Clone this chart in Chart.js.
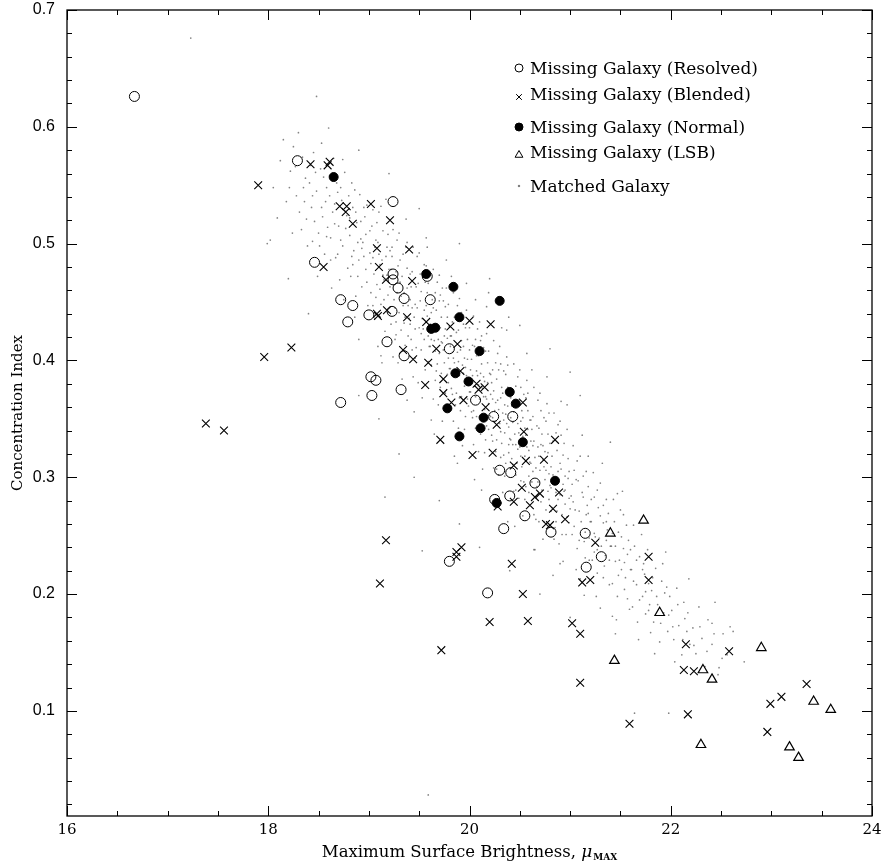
<!DOCTYPE html>
<html>
<head>
<meta charset="utf-8">
<script src="https://cdn.jsdelivr.net/npm/chart.js@4/dist/chart.umd.min.js"></script>
<style>
  html, body { margin: 0; padding: 0; background: #fff; }
  #wrap { width: 882px; height: 865px; position: relative; }
</style>
</head>
<body>
<div id="wrap"><canvas id="chart"></canvas></div>
<script>
// tick labels
const xTicks = [16, 18, 20, 22, 24];
const yTicks = [0.1, 0.2, 0.3, 0.4, 0.5, 0.6, 0.7];

// Missing Galaxy (Resolved) - open circles [mu_max, concentration]
const resolvedPts = [
  [16.67,0.626],[18.29,0.571],[19.24,0.536],[18.46,0.484],[19.24,0.474],[19.24,0.469],
  [19.58,0.472],[19.29,0.462],[19.35,0.453],[19.61,0.452],[18.72,0.452],[18.84,0.447],
  [19.00,0.439],[19.23,0.442],[18.79,0.433],[19.18,0.416],[19.80,0.410],[19.35,0.404],
  [19.02,0.386],[19.07,0.383],[19.32,0.375],[19.03,0.370],[18.72,0.364],[20.06,0.366],
  [20.24,0.352],[20.43,0.352],[20.30,0.306],[20.41,0.304],[20.65,0.295],[20.40,0.284],
  [20.25,0.281],[20.55,0.267],[20.34,0.256],[20.81,0.253],[21.15,0.252],[21.31,0.232],
  [21.16,0.223],[19.80,0.228],[20.18,0.201]
];

// Missing Galaxy (Blended) - crosses
const blendedPts = [
  [18.42,0.568],[18.61,0.570],[18.59,0.567],[17.90,0.550],[18.71,0.532],[18.78,0.532],
  [18.77,0.527],[18.84,0.517],[19.02,0.534],[19.21,0.520],[19.08,0.496],[19.40,0.495],
  [18.55,0.480],[19.10,0.480],[19.17,0.469],[19.43,0.468],[19.08,0.440],[19.09,0.438],
  [19.18,0.443],[19.38,0.437],[19.57,0.433],[20.00,0.434],[20.21,0.431],[19.81,0.429],
  [19.88,0.414],[19.67,0.410],[19.34,0.409],[17.96,0.403],[18.23,0.411],[19.44,0.401],
  [19.59,0.398],[19.91,0.391],[20.07,0.380],[20.15,0.377],[20.09,0.375],[19.74,0.384],
  [19.56,0.379],[19.74,0.372],[19.82,0.364],[19.94,0.366],[20.53,0.364],[20.16,0.360],
  [20.27,0.345],[20.54,0.339],[19.71,0.332],[20.85,0.332],[20.03,0.319],[20.23,0.321],
  [20.44,0.310],[20.56,0.314],[20.74,0.315],[20.52,0.291],[20.70,0.286],[20.89,0.287],
  [20.65,0.283],[20.28,0.275],[20.44,0.279],[20.60,0.276],[20.83,0.273],[20.95,0.264],
  [20.76,0.260],[20.80,0.259],[21.25,0.244],[21.78,0.232],[21.12,0.210],[21.20,0.212],
  [21.78,0.212],[20.42,0.226],[19.87,0.236],[19.92,0.240],[19.87,0.232],[19.17,0.246],
  [20.53,0.200],[20.20,0.176],[20.58,0.177],[21.02,0.175],[19.11,0.209],[21.10,0.166],
  [22.15,0.157],[22.58,0.151],[22.13,0.135],[22.23,0.134],[21.10,0.124],[23.35,0.123],
  [23.10,0.112],[22.99,0.106],[22.17,0.097],[21.59,0.089],[22.96,0.082],[19.72,0.152],
  [17.38,0.346],[17.56,0.340]
];

// Missing Galaxy (Normal) - filled circles
const normalPts = [
  [18.65,0.557],[19.57,0.474],[19.84,0.463],[20.30,0.451],[19.90,0.437],[19.62,0.427],
  [19.66,0.428],[20.10,0.408],[19.86,0.389],[19.99,0.382],[20.40,0.373],[20.46,0.363],
  [19.78,0.359],[20.14,0.351],[20.11,0.342],[19.90,0.335],[20.53,0.330],[20.85,0.297],
  [20.27,0.278]
];

// Missing Galaxy (LSB) - open triangles
const lsbPts = [
  [21.73,0.263],[21.40,0.252],[21.89,0.184],[22.90,0.154],[21.44,0.143],[22.32,0.135],
  [22.41,0.127],[23.42,0.108],[23.59,0.101],[22.30,0.071],[23.18,0.069],[23.27,0.060]
];

// Matched Galaxy - small dots
const matchedPts = [
  [17.23,0.676],[18.48,0.626],[18.60,0.599],[17.99,0.500],[19.59,0.028],
  [18.05,0.548],[18.12,0.571],[18.18,0.536],[18.02,0.503],[18.15,0.589],[18.09,0.522],
  [18.22,0.562],[18.25,0.583],[18.28,0.541],[18.31,0.527],[18.34,0.574],[18.37,0.556],[18.24,0.509],
  [18.39,0.498],[18.30,0.595],[18.36,0.536],[18.21,0.548],[18.33,0.512],[18.27,0.566],
  [18.41,0.552],[18.43,0.531],[18.45,0.578],[18.48,0.545],[18.50,0.509],[18.52,0.564],[18.54,0.523],
  [18.56,0.491],[18.58,0.548],[18.44,0.502],[18.49,0.472],[18.53,0.586],[18.57,0.536],[18.59,0.514],
  [18.42,0.567],[18.46,0.519],[18.55,0.557],[18.51,0.498],
  [18.61,0.541],[18.62,0.505],[18.64,0.527],[18.65,0.573],[18.67,0.488],[18.68,0.552],[18.70,0.515],
  [18.71,0.469],[18.73,0.537],[18.74,0.498],[18.76,0.561],[18.77,0.513],[18.79,0.479],[18.63,0.462],
  [18.66,0.534],[18.69,0.544],[18.72,0.503],[18.75,0.452],[18.78,0.524],[18.80,0.541],[18.62,0.486],
  [18.74,0.572],
  [18.81,0.507],[18.82,0.472],[18.84,0.531],[18.85,0.494],[18.87,0.455],[18.88,0.518],[18.90,0.486],
  [18.91,0.542],[18.93,0.463],[18.94,0.501],[18.96,0.523],[18.97,0.478],[18.99,0.447],[18.83,0.552],
  [18.86,0.437],[18.89,0.501],[18.92,0.519],[18.95,0.489],[18.98,0.533],[18.84,0.482],[18.90,0.418],
  [18.97,0.508],[18.87,0.527],[18.93,0.496],
  [19.01,0.492],[19.02,0.458],[19.03,0.515],[19.05,0.474],[19.06,0.436],[19.07,0.503],[19.08,0.465],
  [19.10,0.527],[19.11,0.482],[19.12,0.448],[19.14,0.511],[19.15,0.469],[19.16,0.425],[19.18,0.497],
  [19.19,0.456],[19.04,0.529],[19.09,0.412],[19.13,0.486],[19.17,0.538],[19.20,0.478],[19.02,0.483],
  [19.06,0.497],[19.11,0.461],[19.15,0.452],[19.19,0.508],[19.04,0.447],[19.13,0.398],[19.08,0.518],
  [19.18,0.473],[19.10,0.491],
  [19.21,0.463],[19.22,0.431],[19.23,0.489],[19.25,0.452],[19.26,0.418],[19.27,0.476],[19.28,0.503],
  [19.30,0.441],[19.31,0.467],[19.32,0.426],[19.34,0.491],[19.35,0.458],[19.36,0.413],[19.38,0.479],
  [19.39,0.447],[19.24,0.512],[19.29,0.398],[19.33,0.472],[19.37,0.521],[19.40,0.436],[19.22,0.478],
  [19.26,0.445],[19.31,0.486],[19.35,0.432],[19.38,0.462],[19.24,0.403],[19.33,0.384],[19.28,0.458],
  [19.37,0.497],[19.21,0.494],[19.30,0.509],[19.39,0.421],[19.27,0.433],[19.34,0.447],
  [19.41,0.452],[19.42,0.418],[19.43,0.476],[19.45,0.437],[19.46,0.402],[19.47,0.463],[19.48,0.489],
  [19.50,0.428],[19.51,0.451],[19.52,0.409],[19.54,0.471],[19.55,0.443],[19.56,0.392],[19.58,0.458],
  [19.59,0.421],[19.44,0.497],[19.49,0.381],[19.53,0.436],[19.57,0.505],[19.60,0.412],[19.42,0.463],
  [19.46,0.427],[19.51,0.474],[19.55,0.418],[19.58,0.438],[19.44,0.386],[19.53,0.368],[19.48,0.445],
  [19.57,0.481],[19.41,0.431],[19.50,0.492],[19.59,0.399],[19.47,0.411],[19.54,0.427],[19.43,0.445],
  [19.52,0.459],[19.56,0.467],[19.45,0.356],
  [19.61,0.431],[19.62,0.396],[19.63,0.452],[19.65,0.417],[19.66,0.383],[19.67,0.443],[19.68,0.467],
  [19.70,0.406],[19.71,0.428],[19.72,0.389],[19.74,0.451],[19.75,0.421],[19.76,0.372],[19.78,0.437],
  [19.79,0.402],[19.64,0.478],[19.69,0.362],[19.73,0.415],[19.77,0.486],[19.80,0.393],[19.62,0.441],
  [19.66,0.408],[19.71,0.456],[19.75,0.398],[19.78,0.419],[19.64,0.367],[19.73,0.348],[19.68,0.426],
  [19.77,0.462],[19.61,0.412],[19.70,0.473],[19.79,0.381],[19.67,0.391],[19.74,0.409],[19.63,0.426],
  [19.72,0.437],[19.76,0.446],[19.65,0.337],[19.69,0.418],[19.80,0.429],[19.66,0.458],[19.71,0.377],
  [19.75,0.361],
  [19.81,0.412],[19.82,0.376],[19.83,0.433],[19.85,0.398],[19.86,0.362],[19.87,0.424],[19.88,0.447],
  [19.90,0.387],[19.91,0.409],[19.92,0.369],[19.94,0.431],[19.95,0.402],[19.96,0.352],[19.98,0.418],
  [19.99,0.383],[19.84,0.458],[19.89,0.342],[19.93,0.396],[19.97,0.466],[20.00,0.373],[19.82,0.421],
  [19.86,0.389],[19.91,0.437],[19.95,0.378],[19.98,0.401],[19.84,0.348],[19.93,0.327],[19.88,0.407],
  [19.97,0.443],[19.81,0.393],[19.90,0.453],[19.99,0.361],[19.87,0.372],[19.94,0.389],[19.83,0.407],
  [19.92,0.417],[19.96,0.428],[19.85,0.318],[19.89,0.399],[20.00,0.409],[19.86,0.438],[19.91,0.357],
  [19.95,0.341],[19.97,0.387],[19.83,0.371],
  [20.01,0.392],[20.02,0.356],[20.03,0.413],[20.05,0.378],[20.06,0.342],[20.07,0.404],[20.08,0.427],
  [20.10,0.367],[20.11,0.389],[20.12,0.349],[20.14,0.411],[20.15,0.382],[20.16,0.332],[20.18,0.398],
  [20.19,0.363],[20.04,0.438],[20.09,0.322],[20.13,0.376],[20.17,0.446],[20.20,0.353],[20.02,0.401],
  [20.06,0.369],[20.11,0.417],[20.15,0.358],[20.18,0.381],[20.04,0.328],[20.13,0.307],[20.08,0.387],
  [20.17,0.423],[20.01,0.373],[20.10,0.433],[20.19,0.341],[20.07,0.352],[20.14,0.369],[20.03,0.387],
  [20.12,0.397],[20.16,0.408],[20.05,0.298],[20.09,0.379],[20.20,0.389],[20.06,0.418],[20.11,0.337],
  [20.15,0.321],[20.17,0.367],[20.03,0.351],[20.19,0.458],
  [20.21,0.371],[20.22,0.336],[20.23,0.392],[20.25,0.357],[20.26,0.322],[20.27,0.384],[20.28,0.406],
  [20.30,0.346],[20.31,0.368],[20.32,0.329],[20.34,0.391],[20.35,0.362],[20.36,0.312],[20.38,0.377],
  [20.39,0.343],[20.24,0.417],[20.29,0.302],[20.33,0.355],[20.37,0.426],[20.40,0.333],[20.22,0.381],
  [20.26,0.348],[20.31,0.397],[20.35,0.338],[20.38,0.361],[20.24,0.308],[20.33,0.287],[20.28,0.366],
  [20.37,0.403],[20.21,0.352],[20.30,0.412],[20.39,0.321],[20.27,0.332],[20.34,0.349],[20.23,0.367],
  [20.32,0.377],[20.36,0.388],[20.25,0.278],[20.29,0.358],[20.40,0.369],[20.26,0.398],[20.31,0.317],
  [20.35,0.301],[20.37,0.346],[20.23,0.331],[20.39,0.437],
  [20.41,0.351],[20.42,0.316],[20.43,0.372],[20.45,0.337],[20.46,0.302],[20.47,0.364],[20.48,0.386],
  [20.50,0.326],[20.51,0.348],[20.52,0.309],[20.54,0.371],[20.55,0.342],[20.56,0.292],[20.58,0.357],
  [20.59,0.323],[20.44,0.397],[20.49,0.282],[20.53,0.335],[20.57,0.406],[20.60,0.313],[20.42,0.361],
  [20.46,0.328],[20.51,0.377],[20.55,0.318],[20.58,0.341],[20.44,0.288],[20.53,0.267],[20.48,0.346],
  [20.57,0.383],[20.41,0.332],[20.50,0.392],[20.59,0.301],[20.47,0.312],[20.54,0.329],[20.43,0.347],
  [20.52,0.357],[20.56,0.368],[20.45,0.258],[20.49,0.338],[20.60,0.349],[20.46,0.378],[20.51,0.297],
  [20.55,0.281],[20.57,0.326],[20.43,0.311],
  [20.61,0.331],[20.62,0.296],[20.63,0.352],[20.65,0.317],[20.66,0.282],[20.67,0.344],[20.68,0.366],
  [20.70,0.306],[20.71,0.328],[20.72,0.289],[20.74,0.351],[20.75,0.322],[20.76,0.272],[20.78,0.337],
  [20.79,0.303],[20.64,0.377],[20.69,0.262],[20.73,0.315],[20.77,0.386],[20.80,0.293],[20.62,0.341],
  [20.66,0.308],[20.71,0.357],[20.75,0.298],[20.78,0.321],[20.64,0.268],[20.73,0.247],[20.68,0.326],
  [20.77,0.363],[20.61,0.312],[20.70,0.372],[20.79,0.281],[20.67,0.292],[20.74,0.309],[20.63,0.327],
  [20.72,0.337],[20.76,0.348],[20.65,0.238],[20.69,0.318],[20.80,0.329],
  [20.81,0.309],[20.82,0.274],[20.83,0.331],[20.85,0.296],[20.86,0.262],[20.87,0.323],[20.88,0.345],
  [20.90,0.285],[20.91,0.307],[20.92,0.268],[20.94,0.329],[20.95,0.301],[20.96,0.251],[20.98,0.316],
  [20.99,0.282],[20.84,0.355],[20.89,0.243],[20.93,0.294],[20.97,0.362],[21.00,0.273],[20.82,0.318],
  [20.86,0.287],[20.91,0.336],[20.95,0.277],[20.98,0.299],[20.84,0.247],[20.93,0.228],[20.88,0.305],
  [20.97,0.341],[20.81,0.291],[20.90,0.348],[20.99,0.261],[20.87,0.271],[20.94,0.288],[20.83,0.216],
  [21.01,0.284],[21.02,0.251],[21.04,0.306],[21.05,0.272],[21.07,0.239],[21.08,0.297],[21.10,0.318],
  [21.11,0.262],[21.13,0.283],[21.14,0.245],[21.16,0.305],[21.17,0.276],[21.19,0.229],[21.03,0.327],
  [21.06,0.221],[21.09,0.271],[21.12,0.336],[21.15,0.253],[21.18,0.292],[21.20,0.262],[21.04,0.258],
  [21.10,0.213],[21.16,0.268],[21.07,0.314],[21.13,0.301],[21.19,0.248],[21.02,0.294],
  [21.21,0.262],[21.22,0.229],[21.24,0.283],[21.25,0.249],[21.27,0.218],[21.28,0.274],[21.30,0.295],
  [21.31,0.241],[21.33,0.261],[21.34,0.224],[21.36,0.281],[21.37,0.255],[21.39,0.208],[21.23,0.304],
  [21.26,0.198],[21.29,0.248],[21.32,0.312],[21.35,0.233],[21.38,0.269],[21.40,0.241],[21.24,0.236],
  [21.30,0.188],[21.36,0.246],[21.27,0.289],[21.33,0.276],
  [21.41,0.241],[21.42,0.209],[21.44,0.262],[21.45,0.228],[21.47,0.198],[21.48,0.253],[21.50,0.272],
  [21.51,0.221],[21.53,0.239],[21.54,0.204],[21.56,0.259],[21.57,0.234],[21.59,0.187],[21.43,0.281],
  [21.46,0.178],[21.49,0.229],[21.52,0.288],[21.55,0.214],[21.58,0.246],[21.60,0.221],[21.45,0.166],
  [21.53,0.268],
  [21.61,0.221],[21.62,0.189],[21.64,0.241],[21.66,0.208],[21.67,0.176],[21.69,0.232],[21.71,0.251],
  [21.72,0.198],[21.74,0.217],[21.75,0.183],[21.77,0.238],[21.78,0.209],[21.80,0.167],[21.63,0.259],
  [21.68,0.161],[21.73,0.226],[21.79,0.191],
  [21.81,0.203],[21.83,0.176],[21.85,0.222],[21.87,0.191],[21.89,0.159],[21.91,0.211],[21.93,0.184],
  [21.95,0.236],[21.97,0.168],[21.99,0.198],[21.84,0.149],[21.92,0.226],[21.96,0.206],
  [22.01,0.186],[22.03,0.161],[22.06,0.205],[22.08,0.173],[22.11,0.148],[22.13,0.193],[22.16,0.168],
  [22.18,0.213],[22.04,0.142],[22.14,0.179],[22.19,0.157],
  [22.22,0.171],[22.25,0.149],[22.28,0.189],[22.31,0.162],[22.34,0.138],[22.37,0.178],[22.41,0.157],
  [22.44,0.193],[22.47,0.131],[22.52,0.166],[22.56,0.148],[22.59,0.172],
  [22.73,0.142],[22.48,0.137],[22.62,0.168],[22.41,0.175],[21.64,0.098],[21.98,0.098],
  [19.53,0.237],[19.16,0.283],[19.30,0.320],[19.45,0.300],[18.90,0.370],[18.40,0.440],[18.20,0.470],
  [19.10,0.350],[19.70,0.280],[19.90,0.260],[20.10,0.240],[20.40,0.220],[20.70,0.200],[21.00,0.180],
  [20.50,0.430],[20.80,0.410],[21.10,0.370],[21.40,0.330],[21.00,0.390],[20.20,0.470],[19.90,0.500],
  [19.50,0.530],[19.20,0.560],[18.90,0.580],
  [19.23,0.497],[19.27,0.422],[19.29,0.481],[19.32,0.455],[19.36,0.437],[19.38,0.501],[19.41,0.474],
  [19.43,0.409],[19.46,0.448],[19.49,0.466],[19.52,0.423],[19.55,0.482],[19.57,0.447],[19.59,0.466],
  [19.62,0.418],[19.64,0.445],[19.66,0.431],[19.68,0.397],[19.70,0.451],[19.72,0.416],[19.73,0.462],
  [19.76,0.427],[19.78,0.388],[19.79,0.448],[19.81,0.421],[19.84,0.402],[19.85,0.437],[19.87,0.391],
  [19.89,0.426],[19.90,0.368],[19.92,0.441],[19.94,0.412],[19.96,0.394],[19.98,0.367],[20.00,0.428],
  [20.02,0.384],[20.04,0.357],[20.05,0.412],[20.07,0.391],[20.09,0.404],[20.10,0.352],[20.12,0.421],
  [20.14,0.386],[20.16,0.369],[20.17,0.344],[20.19,0.408],[20.21,0.388],[20.23,0.351],[20.24,0.374],
  [20.26,0.364],[20.27,0.307],[20.29,0.392],[20.31,0.339],[20.33,0.372],[20.34,0.319],[20.36,0.354],
  [20.38,0.396],[20.39,0.328],[20.41,0.368],[20.43,0.328],[20.44,0.356],[20.46,0.289],[20.48,0.324],
  [20.49,0.362],[20.51,0.318],[20.53,0.351],[20.54,0.296],[20.56,0.336],[20.58,0.372],[20.59,0.287],
  [20.61,0.349],[20.63,0.305],[20.64,0.331],[20.66,0.264],[20.68,0.296],[20.69,0.342],[20.71,0.279],
  [20.73,0.327],[20.74,0.262],[20.76,0.306],[20.78,0.288],[20.79,0.355],[20.81,0.271],[20.83,0.302],
  [20.85,0.257],[20.86,0.338],[20.88,0.281],[20.90,0.312],[20.92,0.251],[20.93,0.319],[20.95,0.289],
  [20.97,0.266],[20.99,0.305],
  [18.35,0.548],[18.38,0.521],[18.44,0.541],[18.47,0.561],[18.53,0.531],[18.58,0.506],[18.61,0.558],
  [18.66,0.517],[18.69,0.491],[18.72,0.548],[18.76,0.528],[18.81,0.522],[18.83,0.489],[18.86,0.546],
  [18.89,0.472],[18.92,0.504],[18.95,0.531],[18.98,0.467],[19.01,0.511],[19.04,0.488],[19.07,0.454],
  [19.09,0.501],[19.12,0.532],[19.14,0.473],[19.17,0.489],[19.19,0.441],
  [19.58,0.497],[19.82,0.472],[20.06,0.452],[20.32,0.428],[20.62,0.392],[20.91,0.365],[21.18,0.318],
  [21.47,0.286],[19.12,0.404],[19.38,0.366],[19.62,0.349],[19.88,0.312],[20.12,0.289],[20.38,0.262],
  [20.64,0.238],[20.90,0.226],[21.14,0.199],[21.42,0.181],
  [21.03,0.279],[21.06,0.298],[21.09,0.246],[21.12,0.287],[21.15,0.231],[21.18,0.269],[21.21,0.281],
  [21.24,0.252],[21.27,0.238],[21.30,0.267],[21.33,0.214],[21.36,0.262],[21.39,0.229],[21.42,0.252],
  [21.45,0.241],[21.48,0.216],[21.51,0.249],[21.54,0.227],[21.57,0.196],[21.60,0.238],[21.63,0.211],
  [21.66,0.229],[21.69,0.195],[21.72,0.221],[21.75,0.202],[21.78,0.186],[21.82,0.214],[21.86,0.198],
  [21.90,0.175],[21.94,0.201],[21.98,0.182],[22.02,0.172],[22.07,0.191],[22.12,0.161],[22.17,0.184],
  [22.23,0.156],[22.29,0.172],[22.36,0.151],[22.43,0.166],[22.51,0.145]
];

const toXY = pts => pts.map(p => ({ x: p[0], y: p[1] }));

const serif = '"DejaVu Serif", serif';

// frame with inward ticks on all four sides, like the original plot
const frameTicks = {
  id: 'frameTicks',
  afterDatasetsDraw(chart) {
    const { ctx, chartArea: a, scales: { x, y } } = chart;
    ctx.save();
    ctx.strokeStyle = '#000';
    ctx.lineWidth = 1.3;
    ctx.strokeRect(a.left, a.top, a.right - a.left, a.bottom - a.top);
    ctx.lineWidth = 1;
    ctx.beginPath();
    for (let i = 0; i <= 16; i++) {
      const px = Math.round(x.getPixelForValue(16 + i * 0.5)) + 0.5;
      const len = i % 4 === 0 ? 10 : 5;
      ctx.moveTo(px, a.bottom); ctx.lineTo(px, a.bottom - len);
      ctx.moveTo(px, a.top); ctx.lineTo(px, a.top + len);
    }
    for (let i = 1; i <= 35; i++) {
      const py = Math.round(y.getPixelForValue(i * 0.02)) + 0.5;
      const len = i % 5 === 0 ? 10 : 5;
      ctx.moveTo(a.left, py); ctx.lineTo(a.left + len, py);
      ctx.moveTo(a.right, py); ctx.lineTo(a.right - len, py);
    }
    ctx.stroke();
    ctx.restore();
  }
};

// legend inside the plot, grouped like the original
const legendRows = [
  { sym: 68, base: 74 },
  { sym: 97, base: 100 },
  { sym: 127, base: 133 },
  { sym: 155, base: 158 },
  { sym: 186, base: 192 }
];
const legendSizes = [4, 4, 4, 4.5, 0.8];

const insideLegend = {
  id: 'insideLegend',
  afterDraw(chart) {
    const ctx = chart.ctx;
    ctx.save();
    chart.data.datasets.forEach((ds, i) => {
      const row = legendRows[i];
      ctx.fillStyle = ds.backgroundColor;
      ctx.strokeStyle = ds.borderColor;
      ctx.lineWidth = 1;
      Chart.helpers.drawPoint(ctx, { pointStyle: ds.pointStyle, radius: legendSizes[i], rotation: 0, borderWidth: 1 }, 519, row.sym);
      ctx.fillStyle = '#000';
      ctx.font = '17px ' + serif;
      ctx.textBaseline = 'alphabetic';
      ctx.textAlign = 'left';
      ctx.fillText(ds.label, 530, row.base);
    });
    ctx.restore();
  }
};

// x axis title with subscript
const xTitle = {
  id: 'xTitle',
  afterDraw(chart) {
    const { ctx, chartArea: a } = chart;
    const main = 'Maximum Surface Brightness, ';
    ctx.save();
    ctx.fillStyle = '#000';
    ctx.textBaseline = 'alphabetic';
    ctx.font = '16.5px ' + serif;
    const w1 = ctx.measureText(main).width;
    ctx.font = 'italic 17px ' + serif;
    const w2 = ctx.measureText('\u03bc').width;
    ctx.font = 'bold 9px ' + serif;
    const w3 = ctx.measureText('MAX').width;
    let xs = (a.left + a.right) / 2 - (w1 + w2 + w3 + 1) / 2;
    const base = 857;
    ctx.font = '16.5px ' + serif;
    ctx.fillText(main, xs, base);
    ctx.font = 'italic 17px ' + serif;
    ctx.fillText('\u03bc', xs + w1, base);
    ctx.font = 'bold 9px ' + serif;
    ctx.fillText('MAX', xs + w1 + w2 + 1, base + 3);
    ctx.restore();
  }
};

new Chart(document.getElementById('chart'), {
  type: 'scatter',
  data: {
    datasets: [
      {
        label: 'Missing Galaxy (Resolved)',
        data: toXY(resolvedPts),
        pointStyle: 'circle',
        radius: 5,
        borderWidth: 1,
        borderColor: '#000',
        backgroundColor: 'rgba(0,0,0,0)'
      },
      {
        label: 'Missing Galaxy (Blended)',
        data: toXY(blendedPts),
        pointStyle: 'crossRot',
        radius: 5.5,
        borderWidth: 1.1,
        borderColor: '#000',
        backgroundColor: '#000'
      },
      {
        label: 'Missing Galaxy (Normal)',
        data: toXY(normalPts),
        pointStyle: 'circle',
        radius: 4.5,
        borderWidth: 1,
        borderColor: '#000',
        backgroundColor: '#000'
      },
      {
        label: 'Missing Galaxy (LSB)',
        data: toXY(lsbPts),
        pointStyle: 'triangle',
        radius: 5.5,
        borderWidth: 1.2,
        borderColor: '#000',
        backgroundColor: 'rgba(0,0,0,0)'
      },
      {
        label: 'Matched Galaxy',
        data: toXY(matchedPts),
        pointStyle: 'circle',
        radius: 0.85,
        borderWidth: 0,
        borderColor: 'rgba(80,80,80,0.7)',
        backgroundColor: 'rgba(80,80,80,0.7)'
      }
    ]
  },
  options: {
    responsive: true,
    maintainAspectRatio: false,
    animation: false,
    devicePixelRatio: 1,
    layout: { padding: { top: 10, right: 10, left: 0, bottom: 0 } },
    plugins: {
      legend: { display: false },
      tooltip: { enabled: false }
    },
    scales: {
      x: {
        type: 'linear',
        min: 16,
        max: 24,
        afterFit: (scale) => { scale.height = 49; scale.paddingLeft = 0; scale.paddingRight = 0; },
        afterBuildTicks: (scale) => { scale.ticks = xTicks.map(v => ({ value: v })); },
        grid: { display: false, drawTicks: false },
        border: { display: false },
        ticks: {
          padding: 5,
          color: '#000',
          font: { family: serif, size: 15 },
          maxRotation: 0,
          callback: (v) => String(v)
        }
      },
      y: {
        type: 'linear',
        min: 0.01,
        max: 0.7,
        afterFit: (scale) => { scale.width = 67; scale.paddingTop = 0; scale.paddingBottom = 0; },
        afterBuildTicks: (scale) => { scale.ticks = yTicks.map(v => ({ value: v })); },
        grid: { display: false, drawTicks: false },
        border: { display: false },
        title: {
          display: true,
          text: 'Concentration Index',
          color: '#000',
          font: { family: serif, size: 15 },
          padding: { top: 9, bottom: 0 }
        },
        ticks: {
          padding: 12,
          color: '#000',
          font: { family: '"Liberation Sans", sans-serif', size: 16 },
          callback: (v) => v.toFixed(1)
        }
      }
    }
  },
  plugins: [frameTicks, insideLegend, xTitle]
});
</script>
</body>
</html>
